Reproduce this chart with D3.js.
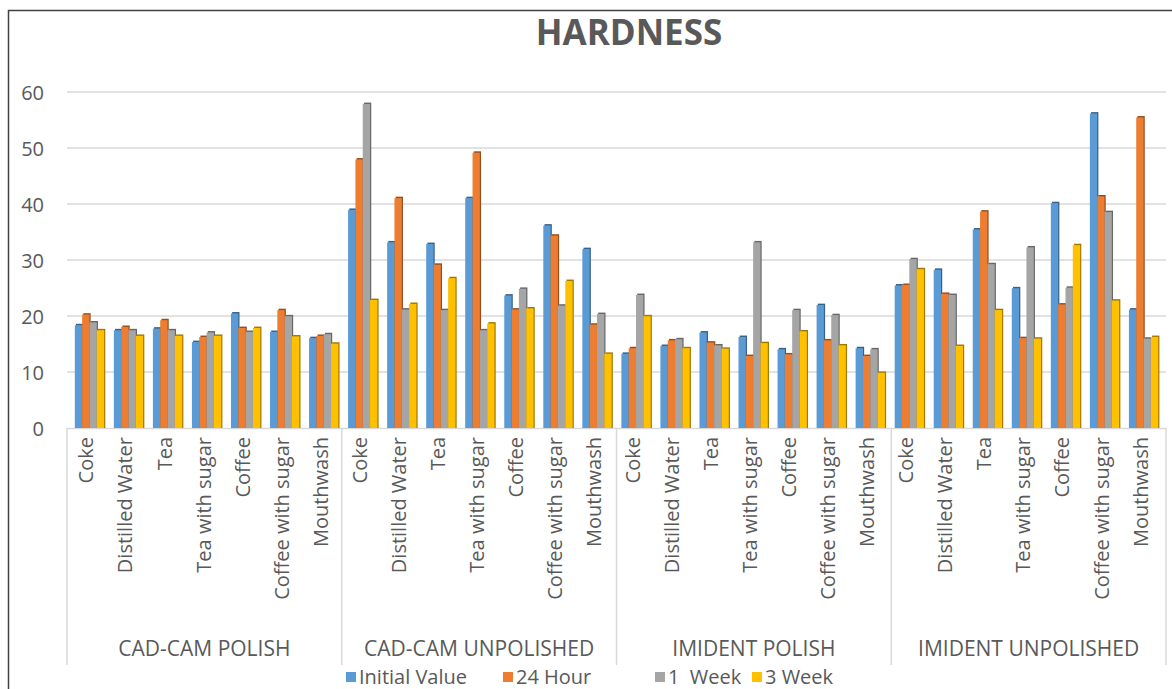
<!DOCTYPE html>
<html>
<head>
<meta charset="utf-8">
<script src="https://cdn.jsdelivr.net/npm/d3@7"></script>
<style>
  html, body { margin: 0; padding: 0; background: #fff; }
  svg { display: block; }
</style>
</head>
<body>
<svg id="chart" width="1172" height="689"></svg>
<script>
// ---- DATA ----
const groups = ["CAD-CAM POLISH", "CAD-CAM UNPOLISHED", "IMIDENT POLISH", "IMIDENT UNPOLISHED"];
const categories = ["Coke", "Distilled Water", "Tea", "Tea with sugar", "Coffee", "Coffee with sugar", "Mouthwash"];
const seriesNames = ["Initial Value", "24 Hour", "1  Week", "3 Week"];
const seriesColors = ["#5B9BD5", "#ED7D31", "#A5A5A5", "#FFC000"];
const yTicks = [0, 10, 20, 30, 40, 50, 60];

const initialValue = [18.5, 17.6, 17.9, 15.5, 20.6, 17.3, 16.2,
                      39.1, 33.3, 33.0, 41.2, 23.8, 36.3, 32.1,
                      13.4, 14.8, 17.2, 16.4, 14.2, 22.1, 14.4,
                      25.6, 28.4, 35.6, 25.1, 40.3, 56.3, 21.3];
const hour24 = [20.4, 18.2, 19.4, 16.4, 18.0, 21.2, 16.6,
                48.1, 41.2, 29.3, 49.3, 21.3, 34.5, 18.6,
                14.4, 15.8, 15.4, 13.0, 13.3, 15.8, 13.0,
                25.7, 24.1, 38.8, 16.2, 22.2, 41.5, 55.6];
const week1 = [19.0, 17.6, 17.6, 17.2, 17.3, 20.1, 16.9,
               58.0, 21.3, 21.2, 17.6, 25.0, 22.0, 20.5,
               23.9, 16.0, 14.9, 33.3, 21.2, 20.3, 14.2,
               30.3, 23.9, 29.4, 32.4, 25.2, 38.7, 16.1];
const week3 = [17.6, 16.6, 16.6, 16.6, 18.0, 16.5, 15.2,
               23.0, 22.3, 26.9, 18.8, 21.5, 26.4, 13.4,
               20.1, 14.4, 14.3, 15.3, 17.4, 14.9, 10.0,
               28.5, 14.8, 21.2, 16.1, 32.8, 22.9, 16.4];
const seriesValues = [initialValue, hour24, week1, week3];

(function () {
// ---- BUILD ROWS ----
const rows = [];
groups.forEach((g, gi) => {
  categories.forEach((c, ci) => {
    const idx = gi * categories.length + ci;
    rows.push({ key: g + "|" + c, group: g, cat: c,
      vals: seriesValues.map((arr, si) => ({ s: si, v: arr[idx] })) });
  });
});

// ---- LAYOUT ----
const svg = d3.select("#chart");
const pL = 67, pR = 1166, pT = 92, pB = 428;
const textColor = "#595959";
const font = "'Open Sans', sans-serif";

// border
svg.append("path")
  .attr("d", "M8.5,700 V10.5 H1180")
  .attr("fill", "none").attr("stroke", "#404040").attr("stroke-width", 1.5);

const x0 = d3.scaleBand().domain(rows.map(r => r.key)).range([pL, pR])
  .paddingInner(0.25).paddingOuter(0.2);
const x1 = d3.scaleBand().domain(d3.range(seriesNames.length)).range([0, x0.bandwidth()]);
const y = d3.scaleLinear().domain([0, 60]).range([pB, pT]);
const gx = d3.scaleBand().domain(groups).range([pL, pR]);

// gridlines
svg.append("g").selectAll("line").data(yTicks.filter(t => t > 0)).join("line")
  .attr("x1", pL).attr("x2", pR)
  .attr("y1", d => y(d)).attr("y2", d => y(d))
  .attr("stroke", "#D9D9D9").attr("stroke-width", 1.6);

// y axis labels
const yAxis = d3.axisLeft(y).tickValues(yTicks).tickSize(0).tickPadding(0);
const yg = svg.append("g").attr("transform", `translate(${pL - 23},0)`).call(yAxis);
yg.select(".domain").remove();
yg.selectAll("text").attr("font-family", font).attr("font-size", 20)
  .attr("fill", textColor).attr("dy", "0.36em");

// baseline
svg.append("line").attr("x1", pL).attr("x2", pR)
  .attr("y1", pB + 0.5).attr("y2", pB + 0.5)
  .attr("stroke", "#D9D9D9").attr("stroke-width", 1.5);

// group separators
const seps = groups.map(g => gx(g)).concat([pR]);
svg.append("g").selectAll("line").data(seps).join("line")
  .attr("x1", d => d).attr("x2", d => d)
  .attr("y1", pB).attr("y2", 665)
  .attr("stroke", "#D9D9D9").attr("stroke-width", 1.5);

// bars
const catG = svg.append("g").selectAll("g").data(rows).join("g")
  .attr("transform", d => `translate(${x0(d.key)},0)`);
catG.selectAll("rect.sh").data(d => d.vals).join("rect").attr("class", "sh")
  .attr("x", d => x1(d.s) + 1.2)
  .attr("y", d => y(d.v) - 0.6)
  .attr("width", x1.bandwidth())
  .attr("height", d => pB - y(d.v) + 0.6)
  .attr("fill", d => d3.color(seriesColors[d.s]).darker(1.3));
catG.selectAll("rect.bar").data(d => d.vals).join("rect").attr("class", "bar")
  .attr("x", d => x1(d.s))
  .attr("y", d => y(d.v) + 0.8)
  .attr("width", x1.bandwidth())
  .attr("height", d => pB - y(d.v) - 0.8)
  .attr("fill", d => seriesColors[d.s]);

// category labels (rotated)
svg.append("g").selectAll("text").data(rows).join("text")
  .attr("transform", d => `translate(${x0(d.key) + x0.bandwidth() / 2 + 4},${pB + 9}) rotate(-90)`)
  .attr("text-anchor", "end")
  .attr("font-family", font).attr("font-size", 20)
  .attr("fill", textColor)
  .text(d => d.cat);

// group labels
svg.append("g").selectAll("text").data(groups).join("text")
  .attr("x", g => gx(g) + gx.bandwidth() / 2)
  .attr("y", 656)
  .attr("text-anchor", "middle")
  .attr("font-family", font).attr("font-size", 21)
  .attr("fill", textColor)
  .text(g => g);

// title
svg.append("text").attr("x", 629).attr("y", 45)
  .attr("text-anchor", "middle")
  .attr("font-family", font).attr("font-size", 35).attr("font-weight", "bold")
  .attr("fill", textColor).text("HARDNESS");

// legend
const legendX = [346, 503, 655, 752];
const lg = svg.append("g").selectAll("g").data(seriesNames).join("g")
  .attr("transform", (d, i) => `translate(${legendX[i]},677)`);
lg.append("rect").attr("x", 0).attr("y", -5).attr("width", 10).attr("height", 10)
  .attr("fill", (d, i) => seriesColors[i]);
lg.append("text").attr("x", 13).attr("y", 0).attr("dy", "0.35em")
  .attr("font-family", font).attr("font-size", 20)
  .attr("fill", textColor)
  .style("white-space", "pre")
  .text(d => d);
})();
</script>
</body>
</html>
